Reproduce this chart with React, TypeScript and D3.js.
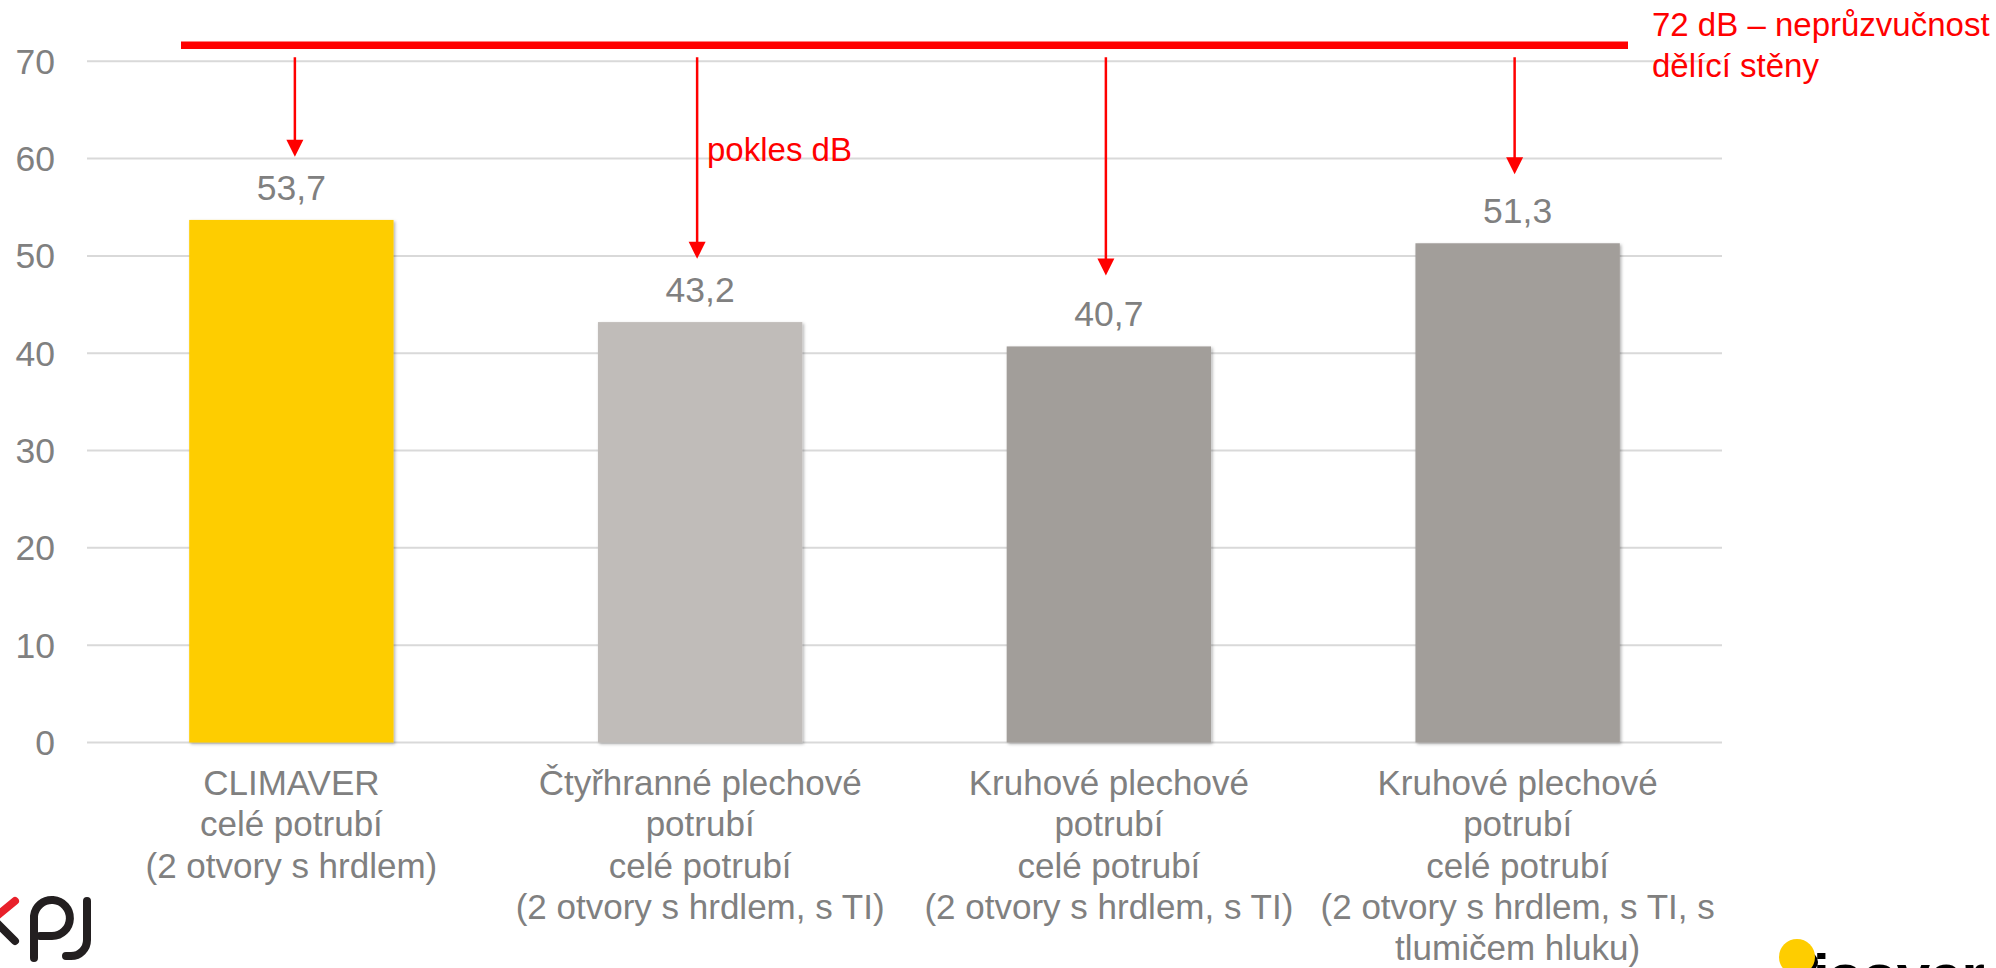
import * as d3 from "d3";

// hodnoty z grafu
const categories = ["climaver", "ctyrhranne", "kruhove", "kruhoveTlumic"];
const values = [53.7, 43.2, 40.7, 51.3];
const valueLabels = ["53,7", "43,2", "40,7", "51,3"];
const categoryLines = [
  ["CLIMAVER", "celé potrubí", "(2 otvory s hrdlem)"],
  ["Čtyřhranné plechové", "potrubí", "celé potrubí", "(2 otvory s hrdlem, s TI)"],
  ["Kruhové plechové", "potrubí", "celé potrubí", "(2 otvory s hrdlem, s TI)"],
  ["Kruhové plechové", "potrubí", "celé potrubí", "(2 otvory s hrdlem, s TI, s", "tlumičem hluku)"],
];
const barColors = ["#fecd00", "#c0bcb9", "#a29e9a", "#a29e9a"];
const yTicks = [0, 10, 20, 30, 40, 50, 60, 70];
// konec šipky "pokles dB" (hodnota na ose y)
const arrowTips = [60.2, 49.7, 48.0, 58.4];
const wallLevel = 71.65;
const wallLabel = ["72 dB – neprůzvučnost", "dělící stěny"];
const dropLabel = "pokles dB";

export default function App() {
  const width = 1996;
  const height = 968;
  const margin = { top: 61.3, right: 274, bottom: 225.5, left: 87 };

  const x = d3
    .scaleBand<string>()
    .domain(categories)
    .range([margin.left, width - margin.right])
    .paddingInner(0.5)
    .paddingOuter(0.25);

  const y = d3
    .scaleLinear()
    .domain([0, 70])
    .range([height - margin.bottom, margin.top]);

  const cx = (i: number) => (x(categories[i]) as number) + x.bandwidth() / 2;
  const gray = "#808080";
  const font = "'Liberation Sans', Arial, sans-serif";
  const red = "#ff0000";
  const arrowTop = y(wallLevel) + 12;

  return (
    <svg
      width={width}
      height={height}
      style={{ position: "absolute", left: 0, top: 0, background: "#fff" }}
      fontFamily={font}
    >
      <defs>
        <filter id="shadow" x="-5%" y="-5%" width="110%" height="110%">
          <feDropShadow dx="1.5" dy="1.5" stdDeviation="1.5" floodColor="#000" floodOpacity="0.3" />
        </filter>
      </defs>

      {/* mřížka a popisky osy y */}
      {yTicks.map((t) => (
        <g key={t}>
          <line
            x1={margin.left}
            x2={width - margin.right}
            y1={y(t)}
            y2={y(t)}
            stroke="#d9d9d9"
            strokeWidth={2}
          />
          <text x={55} y={y(t) + 12.5} textAnchor="end" fontSize={35.5} fill={gray}>
            {t}
          </text>
        </g>
      ))}

      {/* sloupce */}
      {values.map((v, i) => (
        <rect
          key={categories[i]}
          x={x(categories[i])}
          y={y(v)}
          width={x.bandwidth()}
          height={y(0) - y(v)}
          fill={barColors[i]}
          filter="url(#shadow)"
        />
      ))}

      {/* hodnoty */}
      {values.map((v, i) => (
        <text key={i} x={cx(i)} y={y(v) - 20} textAnchor="middle" fontSize={35.5} fill={gray}>
          {valueLabels[i]}
        </text>
      ))}

      {/* popisky kategorií */}
      {categoryLines.map((lines, i) => (
        <text key={i} textAnchor="middle" fontSize={35} fill={gray}>
          {lines.map((l, j) => (
            <tspan key={j} x={cx(i)} y={795 + j * 41.3}>
              {l}
            </tspan>
          ))}
        </text>
      ))}

      {/* červená čára 72 dB */}
      <line
        x1={181}
        x2={1628}
        y1={y(wallLevel)}
        y2={y(wallLevel)}
        stroke={red}
        strokeWidth={7.5}
      />
      <text fill={red} fontSize={33}>
        <tspan x={1652} y={36}>
          {wallLabel[0]}
        </tspan>
        <tspan x={1652} y={77}>
          {wallLabel[1]}
        </tspan>
      </text>

      {/* šipky */}
      {arrowTips.map((tip, i) => {
        const ax = cx(i) + (i === 0 ? 3.5 : -3);
        const ty = y(tip);
        return (
          <g key={i}>
            <line x1={ax} x2={ax} y1={arrowTop} y2={ty - 15} stroke={red} strokeWidth={2.5} />
            <path d={`M${ax - 8.5},${ty - 17} L${ax + 8.5},${ty - 17} L${ax},${ty} Z`} fill={red} />
          </g>
        );
      })}
      <text x={707} y={161} fill={red} fontSize={33}>
        {dropLabel}
      </text>

      {/* logo kpj */}
      <g strokeLinecap="round" fill="none" strokeWidth={8}>
        <line x1={-2} y1={915} x2={15} y2={901} stroke="#e8202a" />
        <line x1={-2} y1={924} x2={15} y2={941} stroke="#231f20" />
        <path
          d="M34,958 L34,916 A18,18 0 1 1 52,936 L40,936"
          stroke="#231f20"
        />
        <path d="M87,901 L87,940 A16,16 0 0 1 71,956 L66,956" stroke="#231f20" />
      </g>

      {/* logo isover */}
      <circle cx={1808} cy={962} r={10} fill="#000" />
      <circle cx={1797} cy={957} r={18} fill="#fecd00" />
      <text x={1813} y={996} fontSize={60} fontWeight="bold" fill="#000" letterSpacing={-1}>
        isover
      </text>
    </svg>
  );
}
